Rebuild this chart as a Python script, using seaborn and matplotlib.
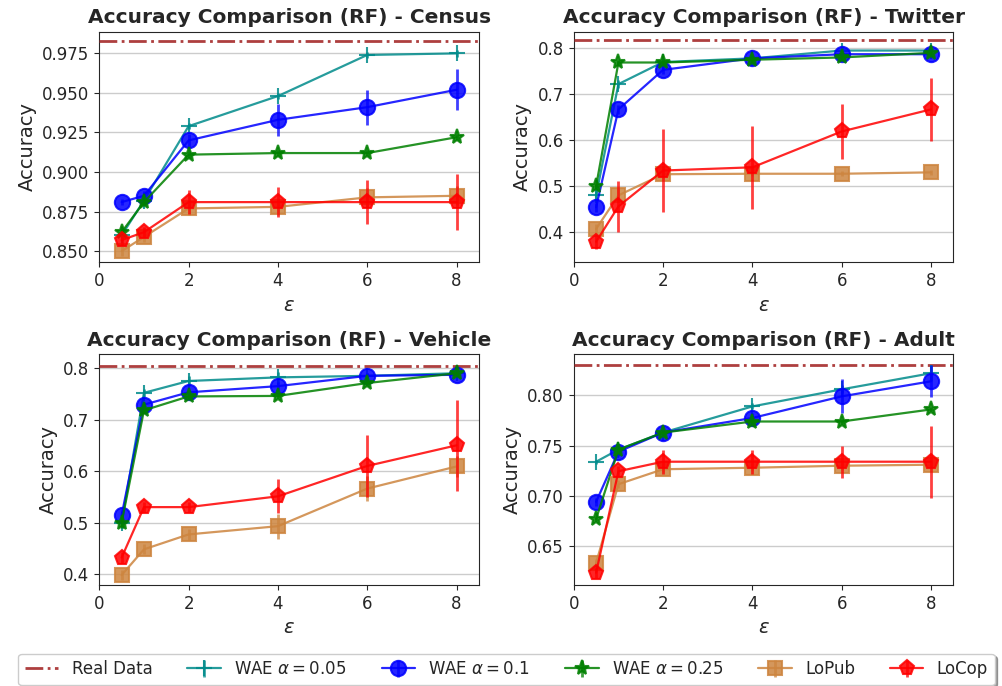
import numpy as np
import pandas as pd
import matplotlib
matplotlib.use('Agg')
import matplotlib.pyplot as plt
import seaborn as sns


# Data

eps = [0.5, 1, 2, 4, 6, 8]

# Census
census_real = 0.983
census_wae005 = [0.860, 0.882, 0.929, 0.948, 0.974, 0.975]
census_wae01 = [0.881, 0.885, 0.920, 0.933, 0.941, 0.952]
census_wae025 = [0.862, 0.881, 0.911, 0.912, 0.912, 0.922]
census_lopub = [0.850, 0.859, 0.877, 0.878, 0.884, 0.885]
census_locop = [0.857, 0.862, 0.881, 0.881, 0.881, 0.881]
census_wae005_err = [0.002, 0.002, 0.002, 0.002, 0.002, 0.002]
census_wae01_err = [0.002, 0.003, 0.004, 0.010, 0.011, 0.013]
census_wae025_err = [0.002, 0.002, 0.002, 0.002, 0.002, 0.002]
census_lopub_err = [0.003, 0.003, 0.004, 0.005, 0.006, 0.006]
census_locop_err = [0.003, 0.003, 0.0075, 0.0095, 0.014, 0.0175]

# Twitter
twitter_real = 0.817
twitter_wae005 = [0.480, 0.722, 0.770, 0.778, 0.795, 0.795]
twitter_wae01 = [0.454, 0.667, 0.753, 0.778, 0.787, 0.787]
twitter_wae025 = [0.500, 0.769, 0.769, 0.775, 0.780, 0.790]
twitter_lopub = [0.407, 0.480, 0.526, 0.527, 0.527, 0.530]
twitter_locop = [0.379, 0.456, 0.534, 0.541, 0.619, 0.667]
twitter_wae005_err = [0.010, 0.008, 0.006, 0.005, 0.010, 0.006]
twitter_wae01_err = [0.010, 0.010, 0.010, 0.005, 0.005, 0.005]
twitter_wae025_err = [0.005, 0.005, 0.005, 0.005, 0.005, 0.005]
twitter_lopub_err = [0.010, 0.015, 0.010, 0.005, 0.005, 0.005]
twitter_locop_err = [0.015, 0.055, 0.090, 0.090, 0.059, 0.068]

# Vehicle
vehicle_real = 0.805
vehicle_wae005 = [0.500, 0.752, 0.775, 0.782, 0.785, 0.790]
vehicle_wae01 = [0.514, 0.729, 0.753, 0.765, 0.785, 0.787]
vehicle_wae025 = [0.500, 0.718, 0.745, 0.746, 0.771, 0.790]
vehicle_lopub = [0.398, 0.448, 0.477, 0.493, 0.566, 0.609]
vehicle_locop = [0.432, 0.530, 0.530, 0.551, 0.610, 0.650]
vehicle_wae005_err = [0.010, 0.008, 0.010, 0.010, 0.005, 0.005]
vehicle_wae01_err = [0.008, 0.006, 0.005, 0.008, 0.005, 0.005]
vehicle_wae025_err = [0.010, 0.005, 0.005, 0.005, 0.005, 0.005]
vehicle_lopub_err = [0.010, 0.010, 0.010, 0.024, 0.024, 0.020]
vehicle_locop_err = [0.010, 0.010, 0.010, 0.033, 0.061, 0.088]

# Adult
adult_real = 0.8298
adult_wae005 = [0.734, 0.746, 0.763, 0.789, 0.806, 0.822]
adult_wae01 = [0.694, 0.744, 0.763, 0.7775, 0.799, 0.814]
adult_wae025 = [0.677, 0.746, 0.763, 0.774, 0.774, 0.786]
adult_lopub = [0.633, 0.7116, 0.7265, 0.728, 0.730, 0.731]
adult_locop = [0.6235, 0.7245, 0.734, 0.734, 0.734, 0.734]
adult_wae005_err = [0.002, 0.002, 0.002, 0.003, 0.004, 0.008]
adult_wae01_err = [0.004, 0.004, 0.003, 0.005, 0.017, 0.016]
adult_wae025_err = [0.002, 0.002, 0.002, 0.002, 0.002, 0.002]
adult_lopub_err = [0.004, 0.004, 0.003, 0.003, 0.004, 0.004]
adult_locop_err = [0.005, 0.005, 0.012, 0.012, 0.016, 0.036]

datasets = ['Census', 'Twitter', 'Vehicle', 'Adult']
method_labels = [r'WAE $\alpha = 0.05$', r'WAE $\alpha = 0.1$', r'WAE $\alpha = 0.25$', 'LoPub', 'LoCop']

panels = {
    'Census': (census_real,
               [census_wae005, census_wae01, census_wae025, census_lopub, census_locop],
               [census_wae005_err, census_wae01_err, census_wae025_err, census_lopub_err, census_locop_err],
               (0.843, 0.9887), [0.850, 0.875, 0.900, 0.925, 0.950, 0.975], '{:.3f}'),
    'Twitter': (twitter_real,
                [twitter_wae005, twitter_wae01, twitter_wae025, twitter_lopub, twitter_locop],
                [twitter_wae005_err, twitter_wae01_err, twitter_wae025_err, twitter_lopub_err, twitter_locop_err],
                (0.3345, 0.836), [0.4, 0.5, 0.6, 0.7, 0.8], '{:.1f}'),
    'Vehicle': (vehicle_real,
                [vehicle_wae005, vehicle_wae01, vehicle_wae025, vehicle_lopub, vehicle_locop],
                [vehicle_wae005_err, vehicle_wae01_err, vehicle_wae025_err, vehicle_lopub_err, vehicle_locop_err],
                (0.3787, 0.8265), [0.4, 0.5, 0.6, 0.7, 0.8], '{:.1f}'),
    'Adult': (adult_real,
              [adult_wae005, adult_wae01, adult_wae025, adult_lopub, adult_locop],
              [adult_wae005_err, adult_wae01_err, adult_wae025_err, adult_lopub_err, adult_locop_err],
              (0.6113, 0.8407), [0.65, 0.70, 0.75, 0.80], '{:.2f}'),
}

# Styles
colors = ['darkcyan', 'blue', 'green', 'peru', 'red']
markers = ['+', 'o', '*', 's', 'p']
msizes = [11, 11, 11, 10, 11]


# Plot

sns.set_style('ticks', {'axes.grid': False})
plt.rcParams['xtick.major.size'] = 3.5
plt.rcParams['ytick.major.size'] = 3.5

fig, axes = plt.subplots(2, 2, figsize=(10.03, 6.86), dpi=100)
plt.subplots_adjust(left=0.099, right=0.9505, top=0.9538, bottom=0.1472,
                    wspace=0.25, hspace=0.4)

legend_handles = []
legend_labels = []

for i, (ax, name) in enumerate(zip(axes.flat, datasets)):
    real, series, errs, ylim, yticks, fmt = panels[name]

    real_line = ax.axhline(real, color='brown', ls='-.', lw=2, alpha=0.9, zorder=3)
    if i == 0:
        legend_handles.append(real_line)
        legend_labels.append('Real Data')

    for j, (vals, err) in enumerate(zip(series, errs)):
        df = pd.DataFrame({'eps': eps, 'acc': vals})
        sns.lineplot(data=df, x='eps', y='acc', ax=ax, color=colors[j],
                     marker=markers[j], markersize=msizes[j],
                     markeredgecolor=colors[j], markeredgewidth=1.5,
                     lw=1.6, alpha=0.85, zorder=4 + j)
        line = ax.get_lines()[-1]
        ebar = ax.errorbar(eps, vals, yerr=err, fmt='none', ecolor=colors[j],
                           elinewidth=2, alpha=0.75, zorder=4 + j)
        if i == 0:
            # legend entry = marker line with its error bar on top
            legend_handles.append((line, ebar))
            legend_labels.append(method_labels[j])

    ax.set_xlim(0, 8.5)
    ax.set_xticks([0, 2, 4, 6, 8])
    ax.set_ylim(*ylim)
    ax.set_yticks(yticks)
    ax.set_yticklabels([fmt.format(t) for t in yticks])
    ax.tick_params(labelsize=12)
    ax.grid(axis='y', color='.8', lw=1)
    ax.set_axisbelow(True)
    ax.set_xlabel(r'$\epsilon$', fontsize=14)
    ax.set_ylabel('Accuracy', fontsize=14)
    ax.set_title('Accuracy Comparison (RF) - ' + name, fontsize=14.5, fontweight='bold')

fig.legend(legend_handles, legend_labels, loc='lower center', bbox_to_anchor=(0.505, 0.0015),
           borderaxespad=0, ncol=6, fontsize=12, columnspacing=2.1,
           shadow=True, fancybox=True)

fig.savefig('out.png', dpi=100)
